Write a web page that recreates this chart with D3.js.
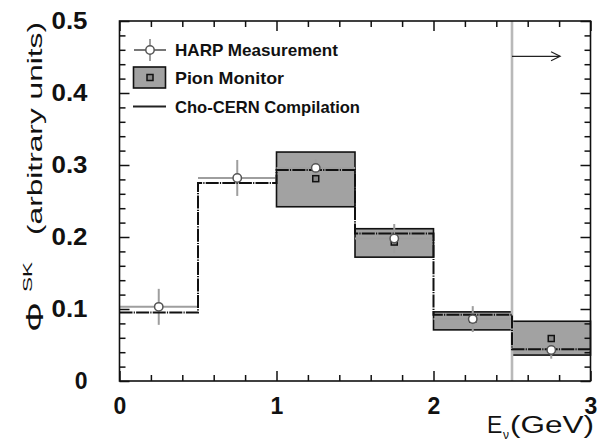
<!DOCTYPE html>
<html>
<head>
<meta charset="utf-8">
<script src="https://cdn.jsdelivr.net/npm/d3@7"></script>
<style>
html,body{margin:0;padding:0;background:#fff;}
svg{display:block;}
text{font-family:"Liberation Sans",Arial,Helvetica,sans-serif;}
</style>
</head>
<body>
<svg id="chart" width="599" height="444"></svg>
<script>
// ---- data ----
const binEdges = [0, 0.5, 1, 1.5, 2, 2.5, 3];
const harpE = [0.25, 0.75, 1.25, 1.75, 2.25, 2.75];
const harpFlux = [0.103, 0.282, 0.296, 0.198, 0.086, 0.043];
const harpErr = [0.025, 0.025, 0.012, 0.020, 0.018, 0.012];
const choFlux = [0.095, 0.275, 0.293, 0.205, 0.092, 0.044];
const pionBinLo = [1.0, 1.5, 2.0, 2.5];
const pionBinHi = [1.5, 2.0, 2.5, 3.0];
const pionCentral = [0.281, 0.193, 0.086, 0.059];
const pionLow = [0.242, 0.172, 0.071, 0.036];
const pionHigh = [0.318, 0.2115, 0.096, 0.083];
const cutE = 2.5;
const arrowY = 0.451;
const arrowEnd = 2.806;
const xTickLabels = [0, 1, 2, 3];
const yTickLabels = [0, 0.1, 0.2, 0.3, 0.4, 0.5];
const legendLabels = ["HARP Measurement", "Pion Monitor", "Cho-CERN Compilation"];

// ---- layout ----
const svg = d3.select("#chart");
const x = d3.scaleLinear().domain([0, 3]).range([119.5, 590.5]);
const y = d3.scaleLinear().domain([0, 0.5]).range([381, 21]);
const boxFill = "#a2a2a2";
const harpGray = "#9e9e9e";

// pion monitor boxes
const boxes = pionBinLo.map((lo, i) => ({lo, hi: pionBinHi[i], c: pionCentral[i], l: pionLow[i], h: pionHigh[i]}));
svg.append("g").selectAll("rect").data(boxes).join("rect")
  .attr("x", d => x(d.lo)).attr("y", d => y(d.h))
  .attr("width", d => x(d.hi) - x(d.lo)).attr("height", d => y(d.l) - y(d.h))
  .attr("fill", boxFill).attr("stroke", "#111").attr("stroke-width", 1.6);

// cut line
svg.append("line")
  .attr("x1", x(cutE)).attr("x2", x(cutE)).attr("y1", y(0.5)).attr("y2", y(0))
  .attr("stroke", "#b9b9b9").attr("stroke-width", 2.6);

// HARP error bars
const harp = harpE.map((e, i) => ({e, v: harpFlux[i], err: harpErr[i], lo: binEdges[i], hi: binEdges[i + 1]}));
const hg = svg.append("g");
hg.selectAll("line.h").data(harp).join("line").attr("class", "h")
  .attr("x1", d => x(d.lo)).attr("x2", d => x(d.hi))
  .attr("y1", d => y(d.v)).attr("y2", d => y(d.v))
  .attr("stroke", harpGray).attr("stroke-width", 2);
hg.selectAll("line.v").data(harp).join("line").attr("class", "v")
  .attr("x1", d => x(d.e)).attr("x2", d => x(d.e))
  .attr("y1", d => y(d.v - d.err)).attr("y2", d => y(d.v + d.err))
  .attr("stroke", harpGray).attr("stroke-width", 2);

// Cho-CERN histogram
const stepData = choFlux.map((v, i) => ({e: binEdges[i], v})).concat([{e: binEdges[binEdges.length - 1], v: choFlux[choFlux.length - 1]}]);
const step = d3.line().x(d => x(d.e)).y(d => y(d.v)).curve(d3.curveStepAfter);
svg.append("path").datum(stepData).attr("d", step)
  .attr("fill", "none").attr("stroke", "#111").attr("stroke-width", 2)
  .attr("stroke-dasharray", "13,1.2,1.2,1.2");

// pion monitor central squares
svg.append("g").selectAll("rect").data(boxes).join("rect")
  .attr("x", d => x((d.lo + d.hi) / 2) - 3).attr("y", d => y(d.c) - 3)
  .attr("width", 6).attr("height", 6)
  .attr("fill", "#888").attr("stroke", "#111").attr("stroke-width", 1.5);

// HARP circles
svg.append("g").selectAll("circle").data(harp).join("circle")
  .attr("cx", d => x(d.e)).attr("cy", d => y(d.v)).attr("r", 4.2)
  .attr("fill", "#fff").attr("stroke", "#555").attr("stroke-width", 1.5);

// arrow
svg.append("line").attr("x1", x(cutE)).attr("x2", x(arrowEnd)).attr("y1", y(arrowY)).attr("y2", y(arrowY))
  .attr("stroke", "#222").attr("stroke-width", 1.3);
svg.append("path")
  .attr("d", `M${x(arrowEnd) - 9},${y(arrowY) - 4.5}L${x(arrowEnd)},${y(arrowY)}L${x(arrowEnd) - 9},${y(arrowY) + 4.5}`)
  .attr("fill", "none").attr("stroke", "#222").attr("stroke-width", 1.3);

// frame
svg.append("rect").attr("x", x(0)).attr("y", y(0.5)).attr("width", x(3) - x(0)).attr("height", y(0) - y(0.5))
  .attr("fill", "none").attr("stroke", "#111").attr("stroke-width", 1.6);

// ticks (inward, all four sides)
const xMinor = d3.range(0, 3.0001, 0.2).filter(v => Math.abs(v - Math.round(v)) > 1e-6);
const yMinor = d3.range(0, 0.5001, 0.02).filter(v => Math.abs(v * 10 - Math.round(v * 10)) > 1e-6);
function addAxis(axisGen, tr) {
  const g = svg.append("g").attr("transform", tr).call(axisGen);
  g.select(".domain").remove();
  g.selectAll("line").attr("stroke", "#111").attr("stroke-width", 1.5);
  return g;
}
// bottom major with labels
const gxb = addAxis(d3.axisBottom(x).tickValues(xTickLabels).tickSize(-10).tickPadding(17).tickFormat(d3.format("d")), `translate(0,${y(0)})`);
gxb.selectAll("text").attr("font-size", 23).attr("font-weight", "bold").attr("fill", "#111")
  .attr("font-family", "Liberation Sans, Arial, sans-serif");
addAxis(d3.axisBottom(x).tickValues(xMinor).tickSize(-6).tickFormat(""), `translate(0,${y(0)})`);
addAxis(d3.axisTop(x).tickValues(xTickLabels).tickSize(-10).tickFormat(""), `translate(0,${y(0.5)})`);
addAxis(d3.axisTop(x).tickValues(xMinor).tickSize(-6).tickFormat(""), `translate(0,${y(0.5)})`);
// left
const gyl = addAxis(d3.axisLeft(y).tickValues(yTickLabels).tickSize(-10).tickPadding(32).tickFormat(d => d === 0 ? "0" : d3.format(".1f")(d)), `translate(${x(0)},0)`);
gyl.selectAll("text").attr("font-size", 23).attr("font-weight", "bold").attr("fill", "#111")
  .attr("font-family", "Liberation Sans, Arial, sans-serif")
  .each(function(d) { if (d !== 0) d3.select(this).attr("textLength", 36).attr("lengthAdjust", "spacingAndGlyphs"); });
addAxis(d3.axisLeft(y).tickValues(yMinor).tickSize(-6).tickFormat(""), `translate(${x(0)},0)`);
addAxis(d3.axisRight(y).tickValues(yTickLabels).tickSize(-10).tickFormat(""), `translate(${x(3)},0)`);
addAxis(d3.axisRight(y).tickValues(yMinor).tickSize(-6).tickFormat(""), `translate(${x(3)},0)`);

// x title
const xt = svg.append("g").attr("fill", "#111");
xt.append("text").attr("x", 487).attr("y", 433).attr("font-size", 23).text("E");
xt.append("text").attr("x", 503).attr("y", 439).attr("font-size", 12).text("ν");
xt.append("text").attr("x", 510).attr("y", 433).attr("font-size", 23)
  .attr("textLength", 84).attr("lengthAdjust", "spacingAndGlyphs").text("(GeV)");

// y title (rotated)
const yt = svg.append("g").attr("fill", "#111");
yt.append("text").attr("transform", "translate(43,332) rotate(-90)").attr("font-size", 23)
  .attr("textLength", 30).attr("lengthAdjust", "spacingAndGlyphs").text("Φ");
yt.append("text").attr("transform", "translate(32,292) rotate(-90)").attr("font-size", 12)
  .attr("textLength", 30).attr("lengthAdjust", "spacingAndGlyphs").text("SK");
yt.append("text").attr("transform", "translate(42,235) rotate(-90)").attr("font-size", 21)
  .attr("textLength", 213).attr("lengthAdjust", "spacingAndGlyphs").text("(arbitrary units)");

// legend
const lg = svg.append("g");
// HARP symbol
lg.append("line").attr("x1", 134).attr("x2", 166).attr("y1", 50).attr("y2", 50).attr("stroke", "#555").attr("stroke-width", 1.6);
lg.append("line").attr("x1", 150).attr("x2", 150).attr("y1", 39).attr("y2", 61).attr("stroke", harpGray).attr("stroke-width", 2);
lg.append("circle").attr("cx", 150).attr("cy", 50).attr("r", 4.2).attr("fill", "#fff").attr("stroke", "#555").attr("stroke-width", 1.5);
// Pion symbol
lg.append("rect").attr("x", 133.5).attr("y", 67).attr("width", 32).attr("height", 21).attr("fill", boxFill).attr("stroke", "#111").attr("stroke-width", 1.6);
lg.append("rect").attr("x", 147).attr("y", 74.5).attr("width", 6).attr("height", 6).attr("fill", "#888").attr("stroke", "#111").attr("stroke-width", 1.5);
// Cho symbol
lg.append("line").attr("x1", 133).attr("x2", 166).attr("y1", 106.5).attr("y2", 106.5).attr("stroke", "#222").attr("stroke-width", 2);
const legY = [56, 84, 113];
lg.selectAll("text").data(legendLabels).join("text")
  .attr("x", 175).attr("y", (d, i) => legY[i])
  .attr("font-size", 17).attr("font-weight", "bold").attr("fill", "#111")
  .attr("textLength", (d, i) => [163, 109, 185][i]).attr("lengthAdjust", "spacingAndGlyphs")
  .text(d => d);
</script>
</body>
</html>
